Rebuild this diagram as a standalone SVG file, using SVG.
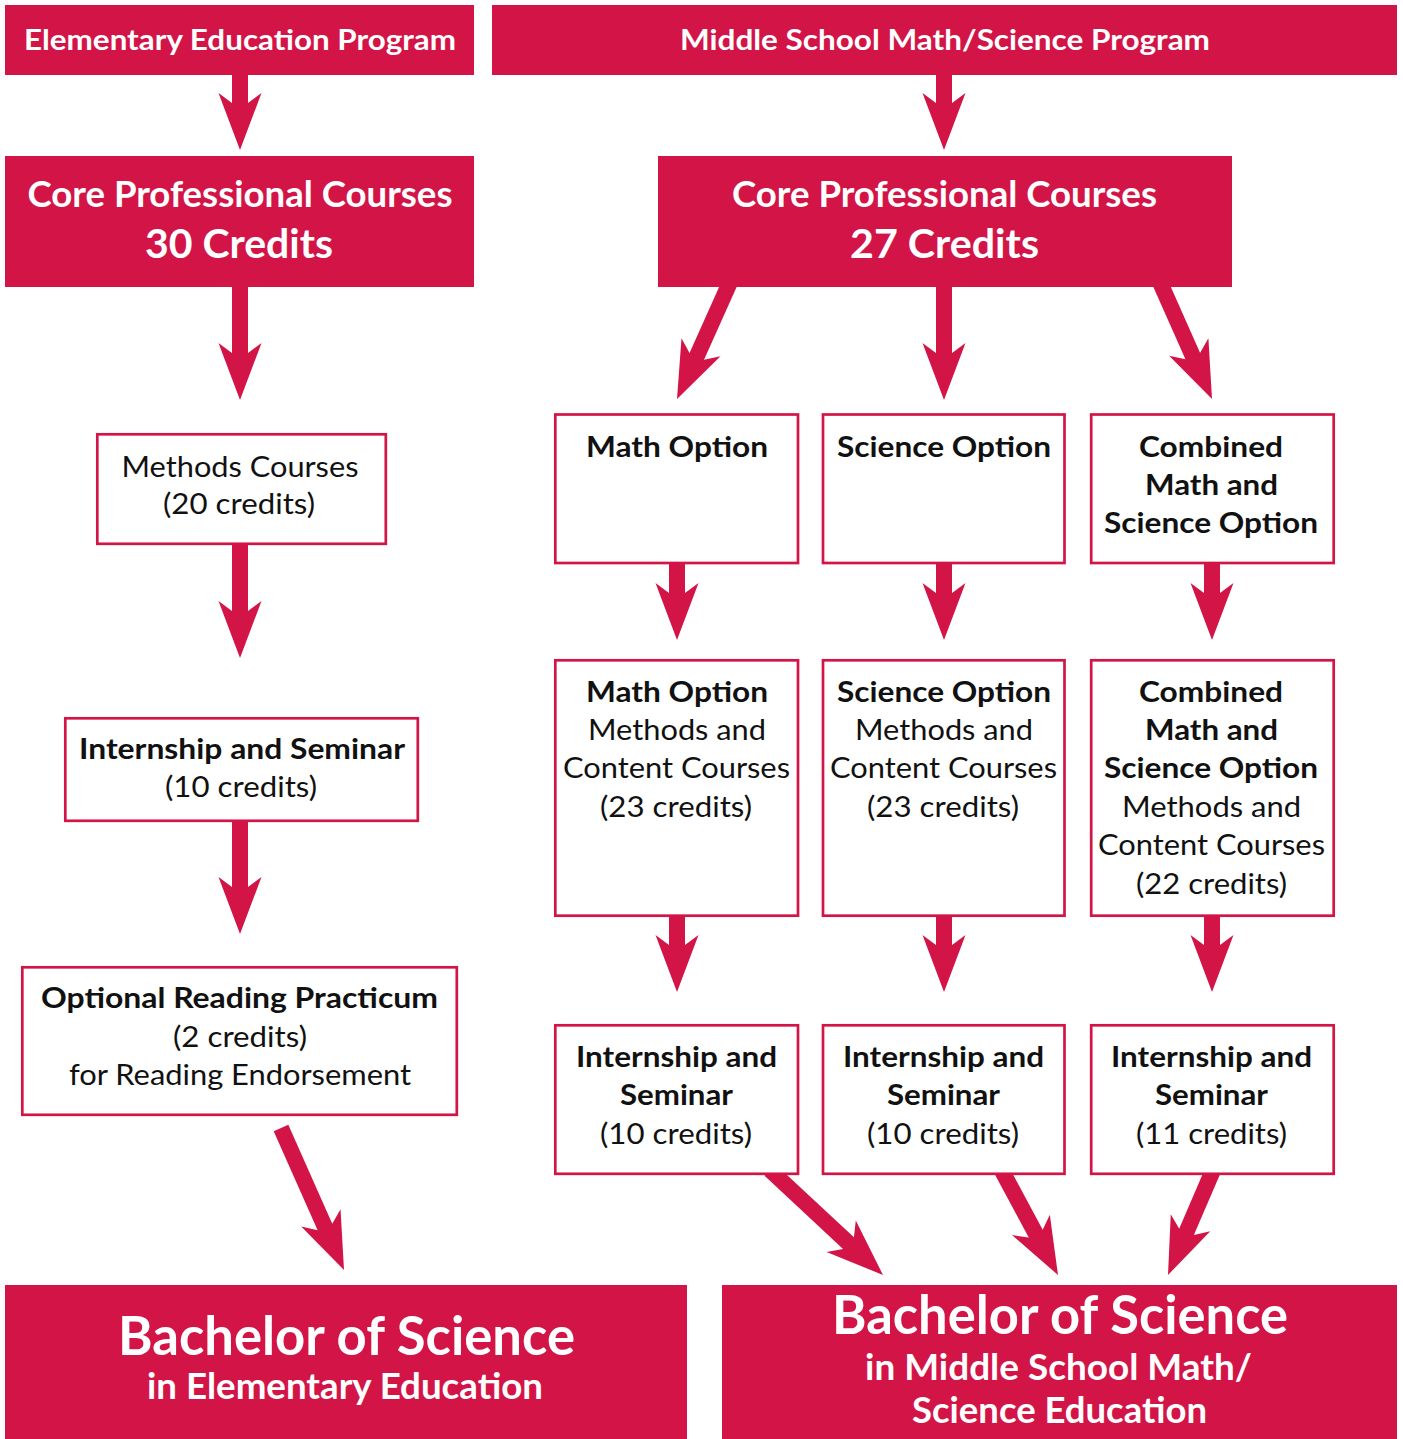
<svg xmlns="http://www.w3.org/2000/svg" xmlns:xlink="http://www.w3.org/1999/xlink" width="1403" height="1439" viewBox="0 0 1403 1439">
<style>
.fill{fill:#D31447}
.box{fill:#fff;stroke:#D31447;stroke-width:2.7}
.shaft{stroke:#D31447;stroke-width:16;fill:none}
text{font-family:"Lato","Noto Sans",sans-serif;text-anchor:middle}
.wt{fill:#fff;font-weight:bold}
.bk{fill:#111;font-size:29px}
.b{font-weight:bold}
</style>
<defs>
<path id="head" d="M0,0 L-21.5,-57 L-8,-47 L8,-47 L21.5,-57 Z" fill="#D31447"/>
</defs>
<rect width="1403" height="1439" fill="#fff"/>

<g id="connectors">
<!-- vertical arrows -->
<line class="shaft" x1="240" y1="70" x2="240" y2="104"/><use xlink:href="#head" href="#head" transform="translate(240,150)"/>
<line class="shaft" x1="944" y1="70" x2="944" y2="104"/><use xlink:href="#head" href="#head" transform="translate(944,150)"/>
<line class="shaft" x1="240" y1="280" x2="240" y2="354"/><use xlink:href="#head" href="#head" transform="translate(240,400)"/>
<line class="shaft" x1="944" y1="280" x2="944" y2="354"/><use xlink:href="#head" href="#head" transform="translate(944,400)"/>
<line class="shaft" x1="240" y1="540" x2="240" y2="612"/><use xlink:href="#head" href="#head" transform="translate(240,658)"/>
<line class="shaft" x1="240" y1="816" x2="240" y2="888"/><use xlink:href="#head" href="#head" transform="translate(240,934)"/>
<line class="shaft" x1="677" y1="560" x2="677" y2="594"/><use xlink:href="#head" href="#head" transform="translate(677,640)"/>
<line class="shaft" x1="944" y1="560" x2="944" y2="594"/><use xlink:href="#head" href="#head" transform="translate(944,640)"/>
<line class="shaft" x1="1212" y1="560" x2="1212" y2="594"/><use xlink:href="#head" href="#head" transform="translate(1212,640)"/>
<line class="shaft" x1="677" y1="910" x2="677" y2="946"/><use xlink:href="#head" href="#head" transform="translate(677,992)"/>
<line class="shaft" x1="944" y1="910" x2="944" y2="946"/><use xlink:href="#head" href="#head" transform="translate(944,992)"/>
<line class="shaft" x1="1212" y1="910" x2="1212" y2="946"/><use xlink:href="#head" href="#head" transform="translate(1212,992)"/>
<!-- diagonal arrows from core MS -->
<line class="shaft" x1="731" y1="280" x2="696.4" y2="357.3"/><use xlink:href="#head" href="#head" transform="translate(677,399) rotate(24.9)"/>
<line class="shaft" x1="1159" y1="280" x2="1193.2" y2="357"/><use xlink:href="#head" href="#head" transform="translate(1212,399) rotate(-24.05)"/>
<!-- elementary to BS -->
<line class="shaft" x1="281" y1="1128" x2="325.4" y2="1228"/><use xlink:href="#head" href="#head" transform="translate(344,1270) rotate(-23.93)"/>
<!-- internships to BS -->
<line class="shaft" x1="770" y1="1170" x2="849.3" y2="1243.8"/><use xlink:href="#head" href="#head" transform="translate(883,1275) rotate(-47.2)"/>
<line class="shaft" x1="1001" y1="1169" x2="1036.2" y2="1234.5"/><use xlink:href="#head" href="#head" transform="translate(1058,1275) rotate(-28.37)"/>
<line class="shaft" x1="1214" y1="1168" x2="1186.2" y2="1232.7"/><use xlink:href="#head" href="#head" transform="translate(1168,1275) rotate(23.27)"/>
</g>

<g id="elem-program">
<rect class="fill" x="5" y="5" width="469" height="70"/>
<text class="wt" x="240" y="50" font-size="28" textLength="432" lengthAdjust="spacingAndGlyphs">Elementary Education Program</text>
</g>
<g id="ms-program">
<rect class="fill" x="492" y="5" width="905" height="70"/>
<text class="wt" x="945" y="50" font-size="28" textLength="530" lengthAdjust="spacingAndGlyphs">Middle School Math/Science Program</text>
</g>

<g id="core-elem">
<rect class="fill" x="5" y="156" width="469" height="131"/>
<text class="wt" x="240" y="207" font-size="36" textLength="425" lengthAdjust="spacingAndGlyphs">Core Professional Courses</text>
<text class="wt" x="239" y="258" font-size="40" textLength="188" lengthAdjust="spacingAndGlyphs">30 Credits</text>
</g>
<g id="core-ms">
<rect class="fill" x="658" y="156" width="574" height="131"/>
<text class="wt" x="944.5" y="207" font-size="36" textLength="425" lengthAdjust="spacingAndGlyphs">Core Professional Courses</text>
<text class="wt" x="944.5" y="258" font-size="40" textLength="189" lengthAdjust="spacingAndGlyphs">27 Credits</text>
</g>

<g id="methods-elem">
<rect class="box" x="97.3" y="434.3" width="288.5" height="109.5"/>
<text class="bk" x="240" y="477" textLength="237" lengthAdjust="spacingAndGlyphs">Methods Courses</text>
<text class="bk" x="239" y="514" textLength="152" lengthAdjust="spacingAndGlyphs">(20 credits)</text>
</g>
<g id="intern-elem">
<rect class="box" x="65.3" y="718.3" width="352.5" height="102.5"/>
<text class="bk b" x="242" y="759" textLength="326" lengthAdjust="spacingAndGlyphs">Internship and Seminar</text>
<text class="bk" x="241" y="797" textLength="152" lengthAdjust="spacingAndGlyphs">(10 credits)</text>
</g>
<g id="reading-elem">
<rect class="box" x="22.3" y="967.3" width="434.5" height="147.5"/>
<text class="bk b" x="239.5" y="1008" textLength="397" lengthAdjust="spacingAndGlyphs">Optional Reading Practicum</text>
<text class="bk" x="240" y="1047" textLength="134" lengthAdjust="spacingAndGlyphs">(2 credits)</text>
<text class="bk" x="240" y="1085" textLength="342" lengthAdjust="spacingAndGlyphs">for Reading Endorsement</text>
</g>

<g id="math-option">
<rect class="box" x="555.3" y="414.5" width="242.7" height="148.5"/>
<text class="bk b" x="677" y="457" textLength="182" lengthAdjust="spacingAndGlyphs">Math Option</text>
</g>
<g id="science-option">
<rect class="box" x="823" y="414.5" width="241.5" height="148.5"/>
<text class="bk b" x="944" y="457" textLength="214" lengthAdjust="spacingAndGlyphs">Science Option</text>
</g>
<g id="combined-option">
<rect class="box" x="1091.2" y="414.5" width="242.5" height="148.5"/>
<text class="bk b" x="1211" y="457" textLength="144" lengthAdjust="spacingAndGlyphs">Combined</text>
<text class="bk b" x="1211.5" y="495" textLength="133" lengthAdjust="spacingAndGlyphs">Math and</text>
<text class="bk b" x="1211" y="533" textLength="214" lengthAdjust="spacingAndGlyphs">Science Option</text>
</g>

<g id="math-methods">
<rect class="box" x="555.3" y="660.3" width="242.7" height="255.4"/>
<text class="bk b" x="677" y="702" textLength="182" lengthAdjust="spacingAndGlyphs">Math Option</text>
<text class="bk" x="677" y="740" textLength="178" lengthAdjust="spacingAndGlyphs">Methods and</text>
<text class="bk" x="676.5" y="778" textLength="227" lengthAdjust="spacingAndGlyphs">Content Courses</text>
<text class="bk" x="676" y="816.5" textLength="152" lengthAdjust="spacingAndGlyphs">(23 credits)</text>
</g>
<g id="science-methods">
<rect class="box" x="823" y="660.3" width="241.5" height="255.4"/>
<text class="bk b" x="944" y="702" textLength="214" lengthAdjust="spacingAndGlyphs">Science Option</text>
<text class="bk" x="944" y="740" textLength="178" lengthAdjust="spacingAndGlyphs">Methods and</text>
<text class="bk" x="943.5" y="778" textLength="227" lengthAdjust="spacingAndGlyphs">Content Courses</text>
<text class="bk" x="943" y="816.5" textLength="152" lengthAdjust="spacingAndGlyphs">(23 credits)</text>
</g>
<g id="combined-methods">
<rect class="box" x="1091.2" y="660.3" width="242.5" height="255.4"/>
<text class="bk b" x="1211" y="702" textLength="144" lengthAdjust="spacingAndGlyphs">Combined</text>
<text class="bk b" x="1211.5" y="740" textLength="133" lengthAdjust="spacingAndGlyphs">Math and</text>
<text class="bk b" x="1211" y="778" textLength="214" lengthAdjust="spacingAndGlyphs">Science Option</text>
<text class="bk" x="1211.5" y="817" textLength="179" lengthAdjust="spacingAndGlyphs">Methods and</text>
<text class="bk" x="1211.5" y="855" textLength="227" lengthAdjust="spacingAndGlyphs">Content Courses</text>
<text class="bk" x="1211.5" y="893.5" textLength="151" lengthAdjust="spacingAndGlyphs">(22 credits)</text>
</g>

<g id="math-intern">
<rect class="box" x="555.3" y="1025.3" width="242.7" height="148.5"/>
<text class="bk b" x="676.5" y="1067" textLength="201" lengthAdjust="spacingAndGlyphs">Internship and</text>
<text class="bk b" x="676.5" y="1105" textLength="113" lengthAdjust="spacingAndGlyphs">Seminar</text>
<text class="bk" x="676" y="1143.5" textLength="152" lengthAdjust="spacingAndGlyphs">(10 credits)</text>
</g>
<g id="science-intern">
<rect class="box" x="823" y="1025.3" width="241.5" height="148.5"/>
<text class="bk b" x="943.5" y="1067" textLength="201" lengthAdjust="spacingAndGlyphs">Internship and</text>
<text class="bk b" x="943.5" y="1105" textLength="113" lengthAdjust="spacingAndGlyphs">Seminar</text>
<text class="bk" x="943" y="1143.5" textLength="152" lengthAdjust="spacingAndGlyphs">(10 credits)</text>
</g>
<g id="combined-intern">
<rect class="box" x="1091.2" y="1025.3" width="242.5" height="148.5"/>
<text class="bk b" x="1211.5" y="1067" textLength="201" lengthAdjust="spacingAndGlyphs">Internship and</text>
<text class="bk b" x="1211.5" y="1105" textLength="113" lengthAdjust="spacingAndGlyphs">Seminar</text>
<text class="bk" x="1211.5" y="1143.5" textLength="151" lengthAdjust="spacingAndGlyphs">(11 credits)</text>
</g>

<g id="bs-elem">
<rect class="fill" x="5" y="1285" width="682" height="154"/>
<text class="wt" x="346.5" y="1355" font-size="53" textLength="457" lengthAdjust="spacingAndGlyphs">Bachelor of Science</text>
<text class="wt" x="345" y="1399" font-size="36" textLength="396" lengthAdjust="spacingAndGlyphs">in Elementary Education</text>
</g>
<g id="bs-ms">
<rect class="fill" x="722" y="1285" width="675" height="154"/>
<text class="wt" x="1060" y="1334" font-size="53" textLength="456" lengthAdjust="spacingAndGlyphs">Bachelor of Science</text>
<text class="wt" x="1058.5" y="1380" font-size="36" textLength="387" lengthAdjust="spacingAndGlyphs">in Middle School Math/</text>
<text class="wt" x="1059.5" y="1423" font-size="36" textLength="295" lengthAdjust="spacingAndGlyphs">Science Education</text>
</g>
</svg>
